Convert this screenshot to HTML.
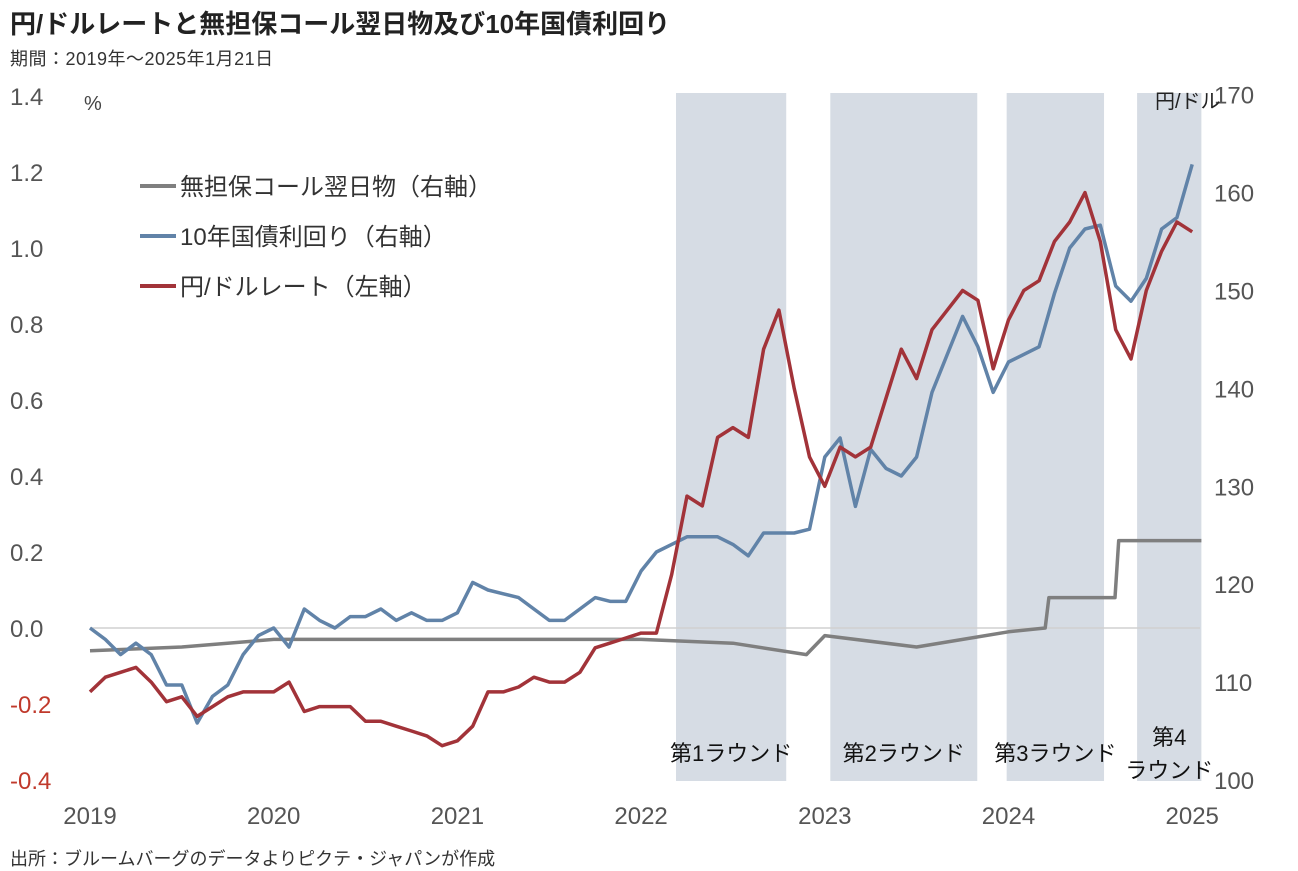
<!DOCTYPE html>
<html><head><meta charset="utf-8"><style>
body{margin:0;background:#fff;font-family:"Liberation Sans","Noto Sans CJK JP",sans-serif;}
#w{position:relative;width:1298px;height:871px;overflow:hidden}
.t{position:absolute;white-space:nowrap}
</style></head><body><div id="w">
<div class="t" style="left:10px;top:4px;font-size:26px;font-weight:bold;color:#222">円/ドルレートと無担保コール翌日物及び10年国債利回り</div>
<div class="t" style="left:10px;top:45px;font-size:18px;letter-spacing:0.5px;color:#333">期間：2019年～2025年1月21日</div>
<div class="t" style="left:10px;top:845px;font-size:18px;color:#333">出所：ブルームバーグのデータよりピクテ・ジャパンが作成</div>
<svg id="c" width="1298" height="871" style="position:absolute;left:0;top:0"></svg>
</div>
<script>
const yen=[109,110.5,111,111.5,110,108,108.5,106.5,107.5,108.5,109,109,
109,110,107,107.5,107.5,107.5,106,106,105.5,105,104.5,103.5,
104,105.5,109,109,109.5,110.5,110,110,111,113.5,114,114.5,
115,115,121,129,128,135,136,135,144,148,140,133,
130,134,133,134,139,144,141,146,148,150,149,142,
147,150,151,155,157,160,155,146,143,150,154,157,156];
const jgb=[0.0,-0.03,-0.07,-0.04,-0.07,-0.15,-0.15,-0.25,-0.18,-0.15,-0.07,-0.02,
0.0,-0.05,0.05,0.02,0.0,0.03,0.03,0.05,0.02,0.04,0.02,0.02,
0.04,0.12,0.10,0.09,0.08,0.05,0.02,0.02,0.05,0.08,0.07,0.07,
0.15,0.20,0.22,0.24,0.24,0.24,0.22,0.19,0.25,0.25,0.25,0.26,
0.45,0.50,0.32,0.47,0.42,0.40,0.45,0.62,0.72,0.82,0.74,0.62,
0.70,0.72,0.74,0.88,1.0,1.05,1.06,0.90,0.86,0.92,1.05,1.08,1.22];
const callT=[2019,2019.5,2020,2020.5,2021,2021.5,2022,2022.5,2022.9,2023,2023.5,2024,2024.2,2024.22,2024.58,2024.6,2025.05];
const callV=[-0.06,-0.05,-0.03,-0.03,-0.03,-0.03,-0.03,-0.04,-0.07,-0.02,-0.05,-0.01,-0.0,0.08,0.08,0.23,0.23];
const leftTicks=[1.4,1.2,1.0,0.8,0.6,0.4,0.2,0.0,-0.2,-0.4];
const rightTicks=[170,160,150,140,130,120,110,100];
const years=[2019,2020,2021,2022,2023,2024,2025];
const rounds=[[2022.19,2022.79,"第1ラウンド"],[2023.03,2023.83,"第2ラウンド"],[2023.99,2024.52,"第3ラウンド"],[2024.7,2025.05,"第4|ラウンド"]];
const X=t=>90+(t-2019)*183.7, YL=v=>628-v*380, YR=v=>780-(v-100)*9.79;
const s=document.getElementById('c');const NS="http://www.w3.org/2000/svg";
function mk(tag,a,txt){const e=document.createElementNS(NS,tag);for(const k in a)e.setAttribute(k,a[k]);if(txt!=null)e.textContent=txt;s.appendChild(e);return e;}
rounds.forEach(r=>{const e=mk('rect',{x:X(r[0]),y:93,width:X(r[1])-X(r[0]),height:688,fill:'#d6dce4'});

});
let z=mk('line',{x1:90,x2:1200,y1:628,y2:628,stroke:'#d0d0d0','stroke-width':1.5});


leftTicks.forEach(v=>{const e=mk('text',{x:10,y:YL(v)+9,'font-size':24,fill:v<0?'#c0392b':'#555'},v.toFixed(1));

});
rightTicks.forEach(v=>{const e=mk('text',{x:1214,y:YR(v)+9,'font-size':24,fill:'#555'},v);

});
years.forEach(v=>{const e=mk('text',{x:X(v),y:824,'font-size':24,fill:'#555','text-anchor':'middle'},v);

});
let u=mk('text',{x:84,y:110,'font-size':20,fill:'#444'},'%');


u=mk('text',{x:1155,y:108,'font-size':20,fill:'#222'},'円/ドル');


function path(ts,vs,Y,col,name){const d=vs.map((v,i)=>(i?'L':'M')+X(ts[i]).toFixed(1)+','+Y(v).toFixed(1)).join('');
const e=mk('path',{d:d,fill:'none',stroke:col,'stroke-width':3.5,'stroke-linejoin':'round'});

}
const mt=yen.map((_,i)=>Math.min(2019+i/12,2025.05));
path(callT,callV,YL,'#7f7f7f','call-rate-line');
path(mt,jgb,YL,'#6183a8','jgb-10y-line');
path(mt,yen,YR,'#a23339','usdjpy-line');
rounds.forEach(r=>{const parts=r[2].split('|');const cx=(X(r[0])+X(r[1]))/2;
parts.forEach((p,i)=>{const e=mk('text',{x:cx,y:parts.length>1?745+i*33:761,'font-size':22,fill:'#111','text-anchor':'middle'},p);

});});
[['#7f7f7f','無担保コール翌日物（右軸）'],['#6183a8','10年国債利回り（右軸）'],['#a23339','円/ドルレート（左軸）']].forEach((l,i)=>{
const y=186+i*50;const a=mk('line',{x1:140,x2:176,y1:y,y2:y,stroke:l[0],'stroke-width':4});


const b=mk('text',{x:180,y:y+9,'font-size':24,fill:'#333'},l[1]);

});
</script></body></html>
